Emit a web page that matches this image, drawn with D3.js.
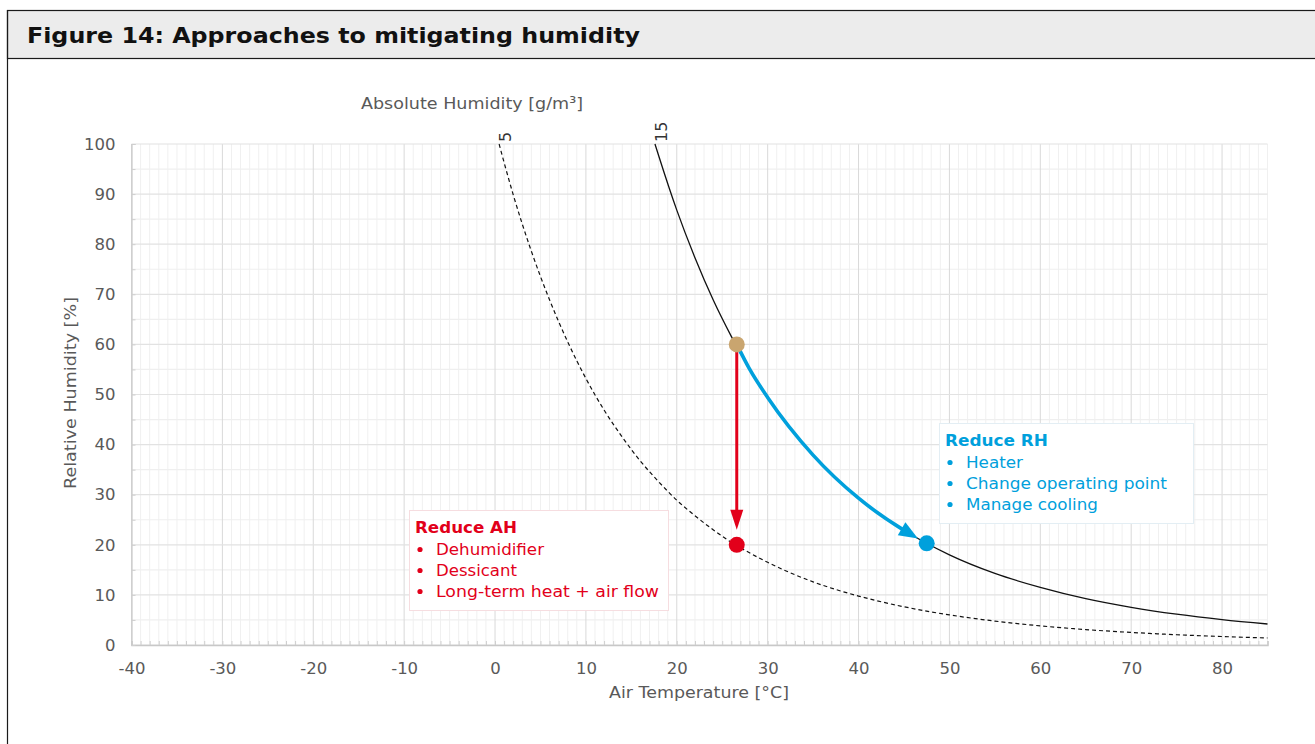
<!DOCTYPE html>
<html>
<head>
<meta charset="utf-8">
<script src="https://cdn.jsdelivr.net/npm/d3@7"></script>
<style>
  html, body { margin: 0; padding: 0; background: #fff; }
  svg { display: block; }
  text { font-family: "DejaVu Sans", Verdana, sans-serif; }
</style>
</head>
<body>
<svg id="chart" width="1315" height="744"></svg>
<script>
// Constant absolute-humidity lines: air temperature [°C] vs relative humidity [%]
const ah5Temp = [0.45, 1, 2, 4, 6, 8, 10, 12, 14, 16, 18, 20, 22, 24, 26, 28, 30, 35, 40, 45, 50, 55, 60, 65, 70, 75, 80, 85];
const ah5RH   = [100, 96.3, 89.9, 78.6, 68.9, 60.5, 53.2, 46.9, 41.5, 36.7, 32.6, 28.9, 25.8, 23.0, 20.5, 18.4, 16.5, 12.6, 9.77, 7.63, 6.01, 4.77, 3.82, 3.08, 2.51, 2.05, 1.69, 1.40];
const ah15Temp = [17.6, 18, 20, 22, 24, 26, 28, 30, 35, 40, 45, 50, 55, 60, 65, 70, 75, 80, 85];
const ah15RH   = [100, 97.7, 86.8, 77.3, 68.9, 61.6, 55.1, 49.4, 37.9, 29.3, 22.9, 18.0, 14.3, 11.5, 9.25, 7.52, 6.15, 5.06, 4.19];

// Operating points: start, after reducing AH, after reducing RH
const pointNames = ["start", "reduceAH", "reduceRH"];
const pointTemp  = [26.6, 26.6, 47.5];
const pointRH    = [60, 20, 20.3];

// Path followed when heating at constant AH (along the 15 g/m³ line)
const heatTemp = [26.6, 28, 30, 35, 40, 45, 47.5];
const heatRH   = [60, 55.1, 49.4, 37.9, 29.3, 22.9, 20.3];

// Axis ticks
const xTicks = [-40, -30, -20, -10, 0, 10, 20, 30, 40, 50, 60, 70, 80];
const yTicks = [0, 10, 20, 30, 40, 50, 60, 70, 80, 90, 100];
const ahLabels = ["5", "15"];

// Text boxes
const ahTitle = "Reduce AH";
const ahItems = ["Dehumidifier", "Dessicant", "Long-term heat + air flow"];
const rhTitle = "Reduce RH";
const rhItems = ["Heater", "Change operating point", "Manage cooling"];

const RED = "#e2001a", BLUE = "#00a0dc", TAN = "#c9a56f", GREY = "#595959";

const svg = d3.select("#chart");

// Stretch a text element to a given rendered width
function fit(sel, w) {
  return sel.attr("textLength", w).attr("lengthAdjust", "spacingAndGlyphs");
}

// Figure frame and header
svg.append("rect").attr("x", 7.5).attr("y", 10.5).attr("width", 1320).attr("height", 48)
  .attr("fill", "#ececec").attr("stroke", "#1a1a1a").attr("stroke-width", 1.2);
svg.append("line").attr("x1", 7.5).attr("x2", 7.5).attr("y1", 10).attr("y2", 744)
  .attr("stroke", "#1a1a1a").attr("stroke-width", 1.2);
fit(svg.append("text").attr("x", 27).attr("y", 43)
  .attr("font-size", 21).attr("font-weight", "bold").attr("fill", "#111")
  .text("Figure 14: Approaches to mitigating humidity"), 613);

const x = d3.scaleLinear().domain([-40, 85]).range([131.5, 1267.5]);
const y = d3.scaleLinear().domain([0, 100]).range([645, 144]);

const g = svg.append("g");

// Minor grid
g.append("g").selectAll("line").data(d3.range(-39, 86, 1).filter(v => v % 10 !== 0))
  .join("line")
  .attr("x1", d => x(d)).attr("x2", d => x(d)).attr("y1", y(0)).attr("y2", y(100))
  .attr("stroke", "#f0f0f0").attr("stroke-width", 1);
g.append("g").selectAll("line").data(d3.range(5, 100, 10))
  .join("line")
  .attr("x1", x(-40)).attr("x2", x(85)).attr("y1", d => y(d)).attr("y2", d => y(d))
  .attr("stroke", "#efefef").attr("stroke-width", 1.2);

// Major grid
g.append("g").selectAll("line").data(xTicks)
  .join("line")
  .attr("x1", d => x(d)).attr("x2", d => x(d)).attr("y1", y(0)).attr("y2", y(100))
  .attr("stroke", "#d9d9d9").attr("stroke-width", 1);
g.append("g").selectAll("line").data(yTicks)
  .join("line")
  .attr("x1", x(-40)).attr("x2", x(85)).attr("y1", d => y(d)).attr("y2", d => y(d))
  .attr("stroke", "#e2e2e2").attr("stroke-width", 1.2);

// Axes
const fmt = d => String(d);
const xAxis = d3.axisBottom(x).tickValues(d3.range(-40, 86, 1)).tickSize(-4).tickFormat("");
g.append("g").attr("transform", `translate(0,${y(0)})`).call(xAxis)
  .call(s => s.select(".domain").attr("stroke", "#c8c8c8").attr("stroke-width", 1.5))
  .call(s => s.selectAll(".tick line").attr("stroke", "#cfcfcf"));
g.append("g").attr("transform", `translate(0,${y(0)})`)
  .call(d3.axisBottom(x).tickValues(xTicks).tickSize(0).tickPadding(17).tickFormat(fmt))
  .call(s => s.select(".domain").remove())
  .call(s => s.selectAll("text").attr("font-size", 16.5).attr("fill", GREY)
    .attr("font-family", "'DejaVu Sans', Verdana, sans-serif"));

const yAxis = d3.axisLeft(y).tickValues(d3.range(0, 101, 5)).tickSize(-4).tickFormat("");
g.append("g").attr("transform", `translate(${x(-40)},0)`).call(yAxis)
  .call(s => s.select(".domain").attr("stroke", "#c8c8c8").attr("stroke-width", 1.2))
  .call(s => s.selectAll(".tick line").attr("stroke", "#cfcfcf"));
g.append("g").attr("transform", `translate(${x(-40)},0)`)
  .call(d3.axisLeft(y).tickValues(yTicks).tickSize(0).tickPadding(16).tickFormat(fmt))
  .call(s => s.select(".domain").remove())
  .call(s => s.selectAll("text").attr("font-size", 16.5).attr("fill", GREY)
    .attr("font-family", "'DejaVu Sans', Verdana, sans-serif"));

// Axis titles
fit(svg.append("text").attr("x", 609).attr("y", 698)
  .attr("font-size", 16.5).attr("fill", GREY).text("Air Temperature [°C]"), 180);
fit(svg.append("text").attr("transform", "translate(76,489) rotate(-90)")
  .attr("font-size", 16.5).attr("fill", GREY).text("Relative Humidity [%]"), 192);
fit(svg.append("text").attr("x", 361).attr("y", 109)
  .attr("font-size", 16.5).attr("fill", GREY).text("Absolute Humidity [g/m³]"), 222);

// Constant-AH curves
const line = d3.line().x(d => x(d[0])).y(d => y(d[1])).curve(d3.curveMonotoneX);
const ah5 = ah5Temp.map((t, i) => [t, ah5RH[i]]);
const ah15 = ah15Temp.map((t, i) => [t, ah15RH[i]]);
g.append("path").datum(ah5).attr("d", line).attr("fill", "none")
  .attr("stroke", "#111").attr("stroke-width", 1.2).attr("stroke-dasharray", "4,3");
g.append("path").datum(ah15).attr("d", line).attr("fill", "none")
  .attr("stroke", "#111").attr("stroke-width", 1.3);

// Curve labels, rotated, at the top of each line
[ah5[0], ah15[0]].forEach((p, i) => {
  svg.append("text")
    .attr("transform", `translate(${x(p[0]) + 12},${y(100) - 2}) rotate(-90)`)
    .attr("font-size", 16).attr("fill", "#333").text(ahLabels[i]);
});

// Arrow: reduce AH (vertical drop)
const pStart = [x(pointTemp[0]), y(pointRH[0])];
const pAH = [x(pointTemp[1]), y(pointRH[1])];
const dotR = 8;

function arrowHead(tip, dir, len, halfW, color) {
  const [dx, dy] = dir;
  const nx = -dy, ny = dx;
  const bx = tip[0] - dx * len, by = tip[1] - dy * len;
  g.append("path")
    .attr("d", `M${tip[0]},${tip[1]}L${bx + nx * halfW},${by + ny * halfW}L${bx - nx * halfW},${by - ny * halfW}Z`)
    .attr("fill", color);
}

const redTip = [pAH[0], pAH[1] - dotR - 7];
g.append("line").attr("x1", pStart[0]).attr("y1", pStart[1])
  .attr("x2", redTip[0]).attr("y2", redTip[1] - 16)
  .attr("stroke", RED).attr("stroke-width", 3);
arrowHead(redTip, [0, 1], 20, 6.5, RED);

// Arrow: reduce RH (heating along the 15 g/m³ line)
const heat = heatTemp.map((t, i) => [t, heatRH[i]]);
const heatPath = g.append("path").datum(heat).attr("d", line).attr("fill", "none")
  .attr("stroke", BLUE).attr("stroke-width", 3.6).attr("stroke-linecap", "butt");
const L = heatPath.node().getTotalLength();
const tipLen = L - dotR - 2;
const headLen = 19;
const tipPt = heatPath.node().getPointAtLength(tipLen);
const basePt = heatPath.node().getPointAtLength(tipLen - headLen);
heatPath.attr("stroke-dasharray", `${tipLen - headLen + 2} ${L}`);
const ddx = tipPt.x - basePt.x, ddy = tipPt.y - basePt.y, dl = Math.hypot(ddx, ddy);
arrowHead([tipPt.x, tipPt.y], [ddx / dl, ddy / dl], headLen, 7.5, BLUE);

// Operating points
const dotColors = [TAN, RED, BLUE];
g.append("g").selectAll("circle").data(pointNames)
  .join("circle")
  .attr("cx", (d, i) => x(pointTemp[i])).attr("cy", (d, i) => y(pointRH[i]))
  .attr("r", dotR).attr("fill", (d, i) => dotColors[i]);

// Annotation boxes
function noteBox(bx, by, w, h, border, color, title, titleW, items, itemW) {
  svg.append("rect").attr("x", bx + 0.5).attr("y", by + 0.5).attr("width", w).attr("height", h)
    .attr("fill", "#fff").attr("stroke", border).attr("stroke-width", 1);
  fit(svg.append("text").attr("x", bx + 6).attr("y", by + 23).attr("font-size", 16.5)
    .attr("font-weight", "bold").attr("fill", color).text(title), titleW);
  items.forEach((t, i) => {
    const yy = by + 45 + i * 21;
    svg.append("circle").attr("cx", bx + 11).attr("cy", yy - 5.5).attr("r", 2.6).attr("fill", color);
    fit(svg.append("text").attr("x", bx + 27).attr("y", yy).attr("font-size", 16.5)
      .attr("fill", color).text(t), itemW[i]);
  });
}
noteBox(409, 510, 259, 100, "#f6dde0", RED, ahTitle, 102, ahItems, [108, 81, 223]);
noteBox(939, 423, 254, 100, "#e3eef4", BLUE, rhTitle, 103, rhItems, [57, 201, 132]);
</script>
</body>
</html>
